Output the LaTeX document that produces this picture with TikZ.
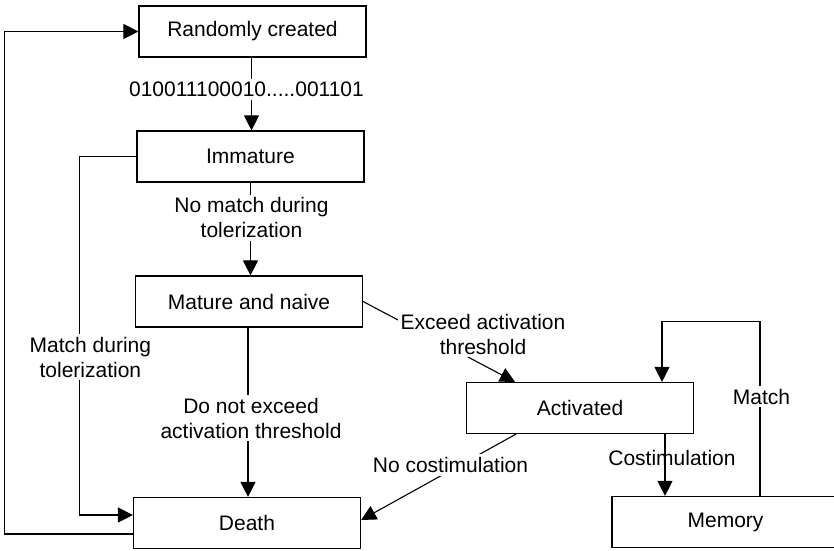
\documentclass[tikz,border=0pt]{standalone}
\usepackage{fontspec}
\setmainfont{Liberation Sans}
\usetikzlibrary{arrows.meta}

\tikzset{
  state/.style={draw,line width=1.2pt,minimum width=227pt,minimum height=51pt,inner sep=0pt,fill=white},
  flow/.style={line width=1.1pt,-{Triangle[length=15pt,width=15pt]}},
  edgelabel/.style={fill=white,inner sep=3pt,align=center},
}

\begin{document}
\begin{tikzpicture}[x=1pt,y=-1pt,font=\fontsize{21}{25}\selectfont]
\useasboundingbox (0,0) rectangle (834,550);

% ---- cell states ----
\node[state] (rand)      at (252.5,31.5) {Randomly created};
\node[state] (immature)  at (250.5,156.5) {Immature};
\node[state] (mature)    at (249,301.5) {Mature and naive};
\node[state] (death)     at (247,523) {Death};
\node[state] (activated) at (580,408) {Activated};
\node[state] (memory)    at (725.5,522) {Memory};

% ---- main line down the left column ----
\draw[flow] ([xshift=-1pt]rand.south) -- ([xshift=-1pt]rand.south |- immature.north)
  node[pos=0.44,edgelabel,xshift=-5pt] (bits) {010011100010.....001101};
\draw[flow] (immature.south) -- (immature.south |- mature.north)
  node[pos=0.38,edgelabel,xshift=1pt] (nomatch) {No match during\\tolerization};
\draw[flow] ([xshift=-1pt]mature.south) -- ([xshift=-1pt]mature.south |- death.north)
  node[pos=0.535,edgelabel,xshift=3pt] (noexceed) {Do not exceed\\activation threshold};

% ---- deletion during tolerization, and recycling back to the start ----
\draw[flow] (immature.west) -- ++(-57,0)
  |- node[pos=0.28,edgelabel,xshift=11pt] (match) {Match during\\tolerization}
  ([yshift=8pt]death.west);
\draw[flow] ([yshift=-11pt]death.west) -- ++(-128,0) |- (rand.west);

% ---- activation branch ----
\draw[flow] (mature.east) -- ([xshift=-65pt]activated.north);
\node[edgelabel] (exceed) at (483,334) {Exceed activation\\threshold};

\draw[flow] ([xshift=-64pt]activated.south) -- ([yshift=3pt]death.east);
\node[edgelabel] (nocostim) at (450.5,465) {No costimulation};

\draw[flow] ([xshift=85pt]activated.south) -- ([xshift=85pt]activated.south |- memory.north)
  node[pos=0.39,xshift=7pt,inner sep=0pt] (costim) {Costimulation};

\draw[flow] ([xshift=34.5pt]memory.north)
  -- node[pos=0.57,edgelabel,xshift=1.5pt] (rematch) {Match} ++(0,-174)
  -| ([xshift=82pt]activated.north);
\end{tikzpicture}
\end{document}
